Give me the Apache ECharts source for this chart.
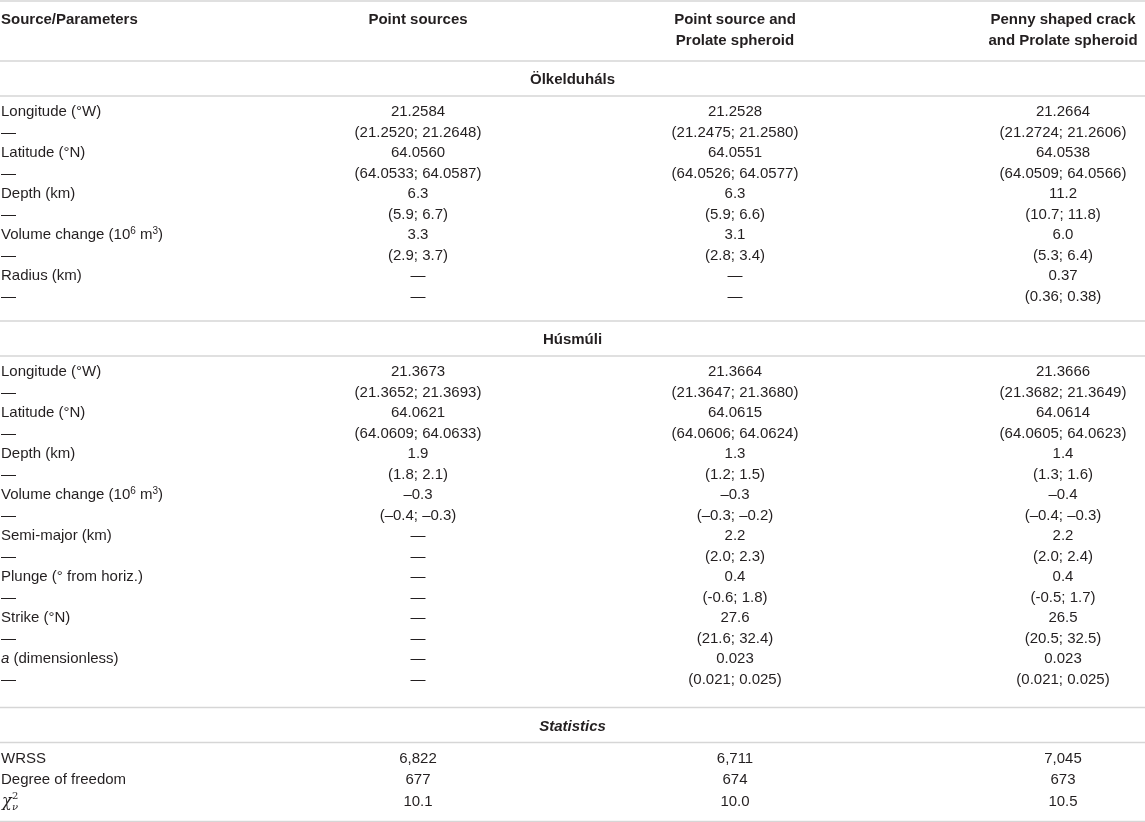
<!DOCTYPE html>
<html>
<head>
<meta charset="utf-8">
<script src="https://cdn.jsdelivr.net/npm/echarts@6/dist/echarts.min.js"></script>
<style>
  html, body { margin: 0; padding: 0; background: #fff; }
  #main { width: 1145px; height: 822px; }
</style>
</head>
<body>
<div id="main"></div>
<script>
// header cells, one array of lines per column
const headers = [
    ['Source/Parameters'],
    ['Point sources'],
    ['Point source and', 'Prolate spheroid'],
    ['Penny shaped crack', 'and Prolate spheroid']
];

// Ölkelduháls
const olkParams = ['Longitude (°W)', '—', 'Latitude (°N)', '—', 'Depth (km)', '—', '{t|Volume change (10}{s|6}{t| m}{s|3}{t|)}', '—', 'Radius (km)', '—'];
const olkPoint = ['21.2584', '(21.2520; 21.2648)', '64.0560', '(64.0533; 64.0587)', '6.3', '(5.9; 6.7)', '3.3', '(2.9; 3.7)', '—', '—'];
const olkProlate = ['21.2528', '(21.2475; 21.2580)', '64.0551', '(64.0526; 64.0577)', '6.3', '(5.9; 6.6)', '3.1', '(2.8; 3.4)', '—', '—'];
const olkPenny = ['21.2664', '(21.2724; 21.2606)', '64.0538', '(64.0509; 64.0566)', '11.2', '(10.7; 11.8)', '6.0', '(5.3; 6.4)', '0.37', '(0.36; 0.38)'];

// Húsmúli
const husParams = ['Longitude (°W)', '—', 'Latitude (°N)', '—', 'Depth (km)', '—', '{t|Volume change (10}{s|6}{t| m}{s|3}{t|)}', '—',
    'Semi-major (km)', '—', 'Plunge (° from horiz.)', '—', 'Strike (°N)', '—', '{i|a}{t| (dimensionless)}', '—'];
const husPoint = ['21.3673', '(21.3652; 21.3693)', '64.0621', '(64.0609; 64.0633)', '1.9', '(1.8; 2.1)', '–0.3', '(–0.4; –0.3)',
    '—', '—', '—', '—', '—', '—', '—', '—'];
const husProlate = ['21.3664', '(21.3647; 21.3680)', '64.0615', '(64.0606; 64.0624)', '1.3', '(1.2; 1.5)', '–0.3', '(–0.3; –0.2)',
    '2.2', '(2.0; 2.3)', '0.4', '(-0.6; 1.8)', '27.6', '(21.6; 32.4)', '0.023', '(0.021; 0.025)'];
const husPenny = ['21.3666', '(21.3682; 21.3649)', '64.0614', '(64.0605; 64.0623)', '1.4', '(1.3; 1.6)', '–0.4', '(–0.4; –0.3)',
    '2.2', '(2.0; 2.4)', '0.4', '(-0.5; 1.7)', '26.5', '(20.5; 32.5)', '0.023', '(0.021; 0.025)'];

// Statistics
const statParams = ['WRSS', 'Degree of freedom', 'CHI'];
const statPoint = ['6,822', '677', '10.1'];
const statProlate = ['6,711', '674', '10.0'];
const statPenny = ['7,045', '673', '10.5'];

const sections = [
    { title: 'Ölkelduháls', italic: false, cols: [olkParams, olkPoint, olkProlate, olkPenny] },
    { title: 'Húsmúli', italic: false, cols: [husParams, husPoint, husProlate, husPenny] },
    { title: 'Statistics', italic: true, cols: [statParams, statPoint, statProlate, statPenny] }
];

// layout
const W = 1145, H = 822;
const ink = '#231f20';
const ruleColor = '#d6d6d6';
const font = '"Liberation Sans", Arial, Helvetica, sans-serif';
const colX = [1, 418, 735, 1063];
const midX = W / 2;
const rowStep = [20.5, 20.5, 21.5];
const gapAfter = [24.5, 28, 20];

let cells = [];
let rules = [];
let y = 1;
rules.push(y);
// header
headers.forEach((lines, ci) => {
    lines.forEach((txt, li) => {
        cells.push({ x: colX[ci], y: 20 + li * 21, text: txt, align: ci === 0 ? 'left' : 'center', bold: true, size: 15 });
    });
});
y = 61;
rules.push(y);
sections.forEach((sec, si) => {
    cells.push({ x: midX, y: y + 19, text: sec.title, align: 'center', bold: true, italic: sec.italic, size: 15 });
    y += 35;
    rules.push(y);
    let ry = y + 16;
    const n = sec.cols[0].length;
    for (let r = 0; r < n; r++) {
        sec.cols.forEach((col, ci) => {
            cells.push({ x: colX[ci], y: ry, text: col[r], align: ci === 0 ? 'left' : 'center', size: 15 });
        });
        if (r < n - 1) ry += rowStep[si];
    }
    y = ry + gapAfter[si];
    rules.push(y);
});

const rich = {
    t: { fontSize: 15, fontFamily: font, color: ink, lineHeight: 18 },
    s: { fontSize: 10, fontFamily: font, color: ink, verticalAlign: 'top', lineHeight: 18 },
    i: { fontSize: 15, fontFamily: font, color: ink, fontStyle: 'italic', lineHeight: 18 }
};

function renderCell(params, api) {
    const c = cells[params.dataIndex];
    const p = api.coord([api.value(0), api.value(1)]);
    if (c.text === 'CHI') {
        return {
            type: 'group',
            children: [
                { type: 'text', x: p[0] + 1, y: p[1], style: { text: 'χ', font: 'italic 16px "DejaVu Serif", serif', fill: ink, align: 'left', verticalAlign: 'middle' } },
                { type: 'text', x: p[0] + 11, y: p[1] - 5, style: { text: '2', font: '10px "DejaVu Serif", serif', fill: ink, align: 'left', verticalAlign: 'middle' } },
                { type: 'text', x: p[0] + 11, y: p[1] + 6, style: { text: 'ν', font: 'italic 10px "DejaVu Serif", serif', fill: ink, align: 'left', verticalAlign: 'middle' } }
            ]
        };
    }
    const style = {
        text: c.text,
        fill: ink,
        fontFamily: font,
        fontSize: c.size,
        fontWeight: c.bold ? 'bold' : 'normal',
        fontStyle: c.italic ? 'italic' : 'normal',
        align: c.align,
        verticalAlign: 'middle'
    };
    if (c.text.indexOf('{') === 0) style.rich = rich;
    return { type: 'text', x: p[0], y: p[1], style: style };
}

function renderRule(params, api) {
    const a = api.coord([0, api.value(0)]);
    const b = api.coord([W, api.value(0)]);
    return {
        type: 'line',
        shape: { x1: a[0], y1: a[1], x2: b[0], y2: b[1] },
        style: { stroke: ruleColor, lineWidth: 1.6 }
    };
}

const chart = echarts.init(document.getElementById('main'), null, { renderer: 'canvas' });
chart.setOption({
    backgroundColor: '#fff',
    animation: false,
    grid: { left: 0, right: 0, top: 0, bottom: 0 },
    xAxis: { type: 'value', min: 0, max: W, show: false },
    yAxis: { type: 'value', min: 0, max: H, inverse: true, show: false },
    series: [
        {
            type: 'custom',
            name: 'rules',
            renderItem: renderRule,
            encode: { y: 0 },
            data: rules.map(v => [v]),
            silent: true
        },
        {
            type: 'custom',
            name: 'cells',
            renderItem: renderCell,
            encode: { x: 0, y: 1 },
            data: cells.map(c => [c.x, c.y]),
            silent: true
        }
    ]
});
</script>
</body>
</html>
